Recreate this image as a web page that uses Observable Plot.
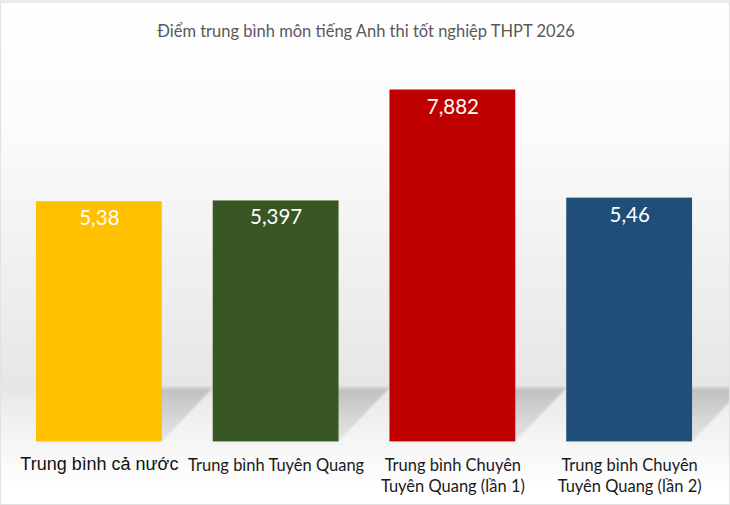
<!DOCTYPE html>
<html><head><meta charset="utf-8">
<script src="https://cdn.jsdelivr.net/npm/d3@7"></script>
<script src="https://cdn.jsdelivr.net/npm/@observablehq/plot@0.6"></script>
<style>
body{margin:0;background:#fff}
#wrap{position:relative;width:730px;height:505px;box-sizing:border-box;border:1px solid #e2e2e2;border-top:3px solid #ececec;
background:linear-gradient(to bottom,#ffffff 0%,#fbfbfb 25%,#efefef 55%,#e6e6e6 76.8%,#ececec 80%,#f6f6f6 88%,#ffffff 97%);overflow:hidden}
#title{position:absolute;top:18px;left:0;width:730px;text-align:center;font-family:Lato,"Open Sans",sans-serif;font-size:16.5px;color:#595959}
#chart{position:absolute;top:-3px;left:-1px}
</style></head>
<body>
<svg width="0" height="0" style="position:absolute">
<defs>
<linearGradient id="shadowGrad" x1="0" y1="0" x2="0" y2="1">
<stop offset="0%" stop-color="#bfbfbf"/>
<stop offset="100%" stop-color="#dadada" stop-opacity="0.6"/>
</linearGradient>
<filter id="soft" x="-10%" y="-10%" width="120%" height="120%">
<feGaussianBlur stdDeviation="1.5"/>
</filter>
</defs>
</svg>
<div id="wrap"><div id="title">Điểm trung bình môn tiếng Anh thi tốt nghiệp THPT 2026</div><div id="chart"></div></div>
<script>
const categories = ["Trung bình cả nước","Trung bình Tuyên Quang","Trung bình Chuyên Tuyên Quang (lần 1)","Trung bình Chuyên Tuyên Quang (lần 2)"];
const values = [5.38, 5.397, 7.882, 5.46];
const valueLabels = ["5,38","5,397","7,882","5,46"];
const tickLabels = ["Trung bình cả nước","Trung bình Tuyên Quang","Trung bình Chuyên\nTuyên Quang (lần 1)","Trung bình Chuyên\nTuyên Quang (lần 2)"];
const colors = ["#FFC000","#385723","#C00000","#1F4E79"];
const shadowHeight = 1.2;

const data = categories.map((c,i)=>({cat:c, value:values[i], label:valueLabels[i], tick:tickLabels[i]}));

const chart = Plot.plot({
  width: 730, height: 505,
  marginTop: 62, marginBottom: 63, marginLeft: 10.5, marginRight: 11.5,
  style: {background: "transparent", overflow: "visible"},
  x: {domain: categories, paddingInner: 0.288, paddingOuter: 0.144, axis: null},
  y: {domain: [0, 8.5], axis: null},
  color: {domain: categories, range: colors},
  marks: [
    Plot.barY(data, {x: "cat", y1: 0, y2: shadowHeight, fill: "url(#shadowGrad)",
      render(index, scales, values, dimensions, context, next) {
        const g = next(index, scales, values, dimensions, context);
        const y0 = scales.y(0);
        const h = y0 - scales.y(shadowHeight);
        const ang = -Math.atan(51 / h) * 180 / Math.PI;
        const prev = g.getAttribute("transform") || "";
        g.setAttribute("transform", `translate(0,${y0}) skewX(${ang}) translate(0,${-y0}) ${prev}`);
        g.setAttribute("filter", "url(#soft)");
        return g;
      }}),
    Plot.barY(data, {x: "cat", y: "value", fill: "cat"}),
    Plot.text(data, {x: "cat", y: "value", text: "label", dy: 17, fill: "white", fontSize: 20.5, fontFamily: "Lato, 'Open Sans', sans-serif"}),
    Plot.text(data, {filter: (d,i) => i === 0, x: "cat", y: 0, text: "tick", lineAnchor: "top", dy: 15, fill: "#111", fontSize: 18, fontFamily: "'Liberation Sans', Arial, sans-serif"}),
    Plot.text(data, {filter: (d,i) => i > 0, x: "cat", y: 0, text: "tick", lineAnchor: "top", dy: 14, lineHeight: 1.3, fill: "#1a1a1a", fontSize: 16.5, fontFamily: "Lato, 'Open Sans', sans-serif"})
  ]
});
document.getElementById("chart").appendChild(chart);
</script>
</body></html>
